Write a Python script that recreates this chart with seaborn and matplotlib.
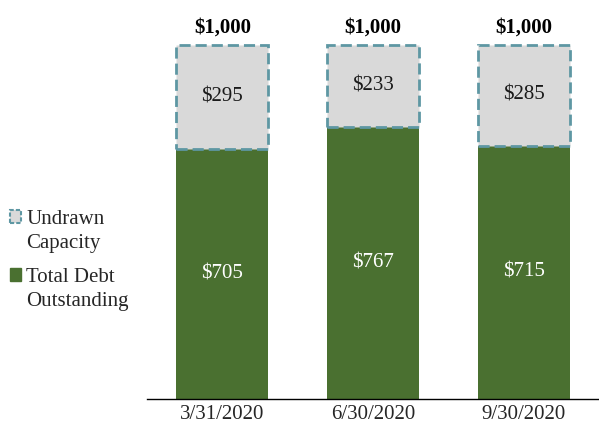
import numpy as np
import pandas as pd
import matplotlib
matplotlib.use("Agg")
import matplotlib.pyplot as plt
import seaborn as sns
from matplotlib.patches import Patch

# data
dates = ["3/31/2020", "6/30/2020", "9/30/2020"]
debt = [705, 767, 715]
undrawn = [295, 233, 285]
capacity = [1000, 1000, 1000]
legend_lines = [["Undrawn", "Capacity"], ["Total Debt", "Outstanding"]]

GREEN = "#4a7030"
GRAY = "#d9d9d9"
TEAL = "#5e97a3"

sns.set_style("white")
plt.rcParams["font.family"] = ["Liberation Serif", "DejaVu Serif"]

fig = plt.figure(figsize=(5.99, 4.33), dpi=100)
ax = fig.add_axes([147 / 599, 34 / 433, 1 - 147 / 599, 399 / 433])

df = pd.DataFrame({"date": dates, "debt": debt, "undrawn": undrawn, "cap": capacity})

sns.barplot(data=df, x="date", y="debt", color=GREEN, saturation=1,
            width=0.61, linewidth=0, ax=ax, zorder=2)
sns.barplot(data=df, x="date", y="undrawn", bottom=df["debt"].values, color=GRAY,
            saturation=1, width=0.61, edgecolor=TEAL, linewidth=2,
            linestyle=(0, (4, 1.8)), ax=ax, zorder=3)

# value labels
for i, row in df.iterrows():
    ax.text(i, row["debt"] / 2, f"${row['debt']:,}", ha="center", va="center",
            color="white", fontsize=15, zorder=5)
    ax.text(i, row["debt"] + row["undrawn"] / 2, f"${row['undrawn']:,}",
            ha="center", va="center", color="#1a1a1a", fontsize=15, zorder=5)
    ax.text(i, row["cap"] + 22, f"${row['cap']:,}", ha="center", va="bottom",
            color="black", fontsize=15, fontweight="bold", zorder=5)

ax.set_xlim(-0.5, 2.5)
ax.set_ylim(0, 1000 * 399 / 354)
ax.set_xlabel("")
ax.set_ylabel("")
ax.set_yticks([])
ax.set_xticks([-0.5, 0.5, 1.5, 2.5])
ax.set_xticklabels([])
ax.set_xticks([0, 1, 2], minor=True)
ax.set_xticklabels(dates, minor=True, fontsize=15)
ax.tick_params(axis="x", which="major", direction="out", length=5, width=1, color="black")
ax.tick_params(axis="x", which="minor", length=0, pad=4)
for s in ["top", "right", "left"]:
    ax.spines[s].set_visible(False)
ax.spines["bottom"].set_color("black")
ax.spines["bottom"].set_linewidth(1)
ax.spines["bottom"].set_zorder(6)

# legend: marker beside the first line of each two-line label
blank = Patch(facecolor="none", edgecolor="none")
handles = [
    Patch(facecolor=GRAY, edgecolor=TEAL, linewidth=1.5, linestyle=(0, (2, 1))),
    Patch(facecolor=GREEN, edgecolor=GREEN),
]
for h, lines, top in zip(handles, legend_lines, [0.535, 0.4]):
    fig.legend([h, blank], lines, loc="upper left",
               bbox_to_anchor=(0.002, top), frameon=False,
               fontsize=15, handlelength=0.55, handleheight=0.55,
               handletextpad=0.25, labelspacing=0.25, borderaxespad=0)

fig.savefig("out.png", dpi=100)
